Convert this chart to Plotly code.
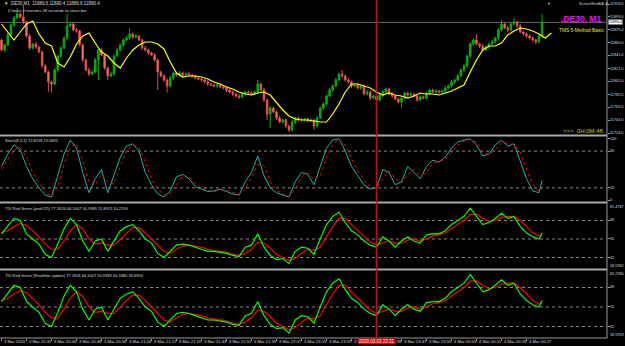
import plotly.graph_objects as go

# ---------------- data ----------------
candle_close = [
    11849, 11856.5, 11871.5, 11886.5, 11897, 11903, 11898.5, 11891, 11870, 11852,
    11858, 11853.5, 11846, 11825, 11816, 11801, 11798, 11819, 11840, 11852,
    11867, 11885, 11888, 11879, 11877.5, 11856.5, 11834, 11819, 11813, 11816,
    11834, 11849, 11841.5, 11822, 11810, 11813, 11840, 11849, 11856.5, 11864,
    11867, 11873, 11868.5, 11870, 11864, 11852, 11849, 11844.5, 11841.5, 11834,
    11816, 11810, 11804, 11795, 11807, 11814.5, 11811.5, 11814.5, 11811.5, 11813,
    11811.5, 11810, 11807, 11805.5, 11804, 11801, 11798, 11796.5, 11795, 11796.5,
    11793.5, 11792, 11789, 11786, 11783, 11780, 11778.5, 11783, 11786, 11784.5,
    11783, 11786, 11798, 11789, 11774, 11753, 11762, 11756, 11747, 11741,
    11744, 11735, 11729, 11741, 11747, 11744, 11744.5, 11745.5, 11742.5, 11744,
    11735, 11747, 11762, 11768, 11780, 11789, 11795, 11804, 11813, 11810,
    11804, 11801, 11795, 11796.5, 11792, 11795, 11783, 11786, 11777, 11780,
    11774, 11781.5, 11786, 11790.5, 11783, 11780, 11775.5, 11771, 11777, 11784.5,
    11781.5, 11783, 11780, 11774, 11778.5, 11777, 11783, 11789, 11786, 11787.5,
    11786, 11787.5, 11792, 11795, 11801, 11804, 11810, 11819, 11825, 11840,
    11858, 11864, 11858, 11855, 11849, 11853.5, 11858, 11861, 11867, 11879,
    11888, 11882, 11879, 11888, 11891, 11885, 11876, 11873, 11870, 11867,
    11864, 11861, 11870, 11890.4,
]
first_open = 11864.0
wick_up = [
    2, 2, 3, 2, 3, 9, 2, 18, 2, 3,
    2, 3, 2, 2, 3, 2, 2, 3, 2, 3,
    2, 18, 3, 2, 3, 2, 2, 2, 3, 2,
    3, 2, 3, 2, 2, 3, 2, 3, 2, 2,
    3, 9, 2, 3, 2, 2, 3, 2, 2, 3,
    2, 2, 3, 2, 3, 2, 2, 3, 2, 2,
    3, 2, 2, 3, 2, 2, 3, 2, 2, 3,
    2, 2, 3, 2, 2, 2, 3, 3, 2, 2,
    3, 2, 6, 2, 3, 2, 3, 2, 2, 3,
    2, 2, 2, 3, 2, 2, 3, 2, 2, 3,
    2, 3, 2, 3, 2, 3, 2, 3, 2, 6,
    2, 3, 2, 2, 3, 2, 2, 3, 2, 2,
    3, 2, 3, 2, 2, 3, 2, 2, 3, 2,
    2, 3, 2, 2, 3, 2, 3, 2, 2, 3,
    2, 2, 3, 2, 3, 2, 3, 2, 3, 2,
    3, 2, 9, 2, 3, 2, 2, 3, 2, 3,
    6, 2, 3, 2, 6, 2, 3, 2, 2, 3,
    2, 2, 3, 12,
]
wick_dn = [
    2, 3, 2, 2, 3, 2, 2, 3, 2, 3,
    2, 3, 2, 3, 2, 15, 13, 2, 3, 2,
    2, 3, 2, 2, 3, 2, 3, 2, 3, 2,
    2, 30, 2, 3, 6, 2, 3, 2, 2, 3,
    2, 2, 3, 2, 2, 3, 2, 3, 2, 2,
    27, 2, 3, 10, 2, 3, 2, 2, 3, 2,
    2, 3, 2, 2, 3, 2, 3, 2, 2, 3,
    2, 2, 3, 2, 3, 2, 3, 2, 2, 3,
    2, 2, 3, 2, 3, 9, 21, 2, 3, 2,
    2, 3, 3, 2, 3, 2, 2, 3, 2, 2,
    6, 3, 2, 3, 2, 2, 3, 2, 2, 3,
    2, 2, 3, 2, 2, 3, 2, 2, 3, 2,
    9, 2, 3, 2, 2, 3, 2, 2, 9, 2,
    3, 2, 2, 3, 2, 2, 3, 2, 2, 3,
    2, 2, 3, 2, 2, 3, 2, 2, 3, 2,
    3, 2, 2, 3, 2, 2, 3, 2, 2, 3,
    2, 2, 3, 2, 2, 3, 2, 2, 3, 2,
    2, 3, 2, 3,
]
# TMS moving average, every second bar
ma_values = [
    11888, 11876, 11864, 11876, 11888, 11892.5, 11873, 11859.5, 11855, 11829.5,
    11823.5, 11838.5, 11858, 11870, 11874.5, 11859.5, 11846, 11840, 11829.5, 11822,
    11837, 11849, 11856.5, 11861, 11861, 11858, 11850.5, 11831, 11814.5, 11808.5,
    11810, 11810, 11808.5, 11805.5, 11801, 11798, 11793.5, 11790.5, 11786, 11783,
    11781.5, 11784.5, 11786, 11781.5, 11769.5, 11759, 11750, 11745.5, 11744, 11744,
    11742.5, 11741, 11741, 11753, 11768, 11786, 11798, 11798, 11795, 11792,
    11786, 11781.5, 11784.5, 11781.5, 11780, 11777, 11780, 11784.5, 11783, 11783,
    11781.5, 11784.5, 11787.5, 11792, 11796.5, 11816, 11834, 11849, 11855, 11855,
    11859.5, 11871.5, 11877.5, 11882, 11880.5, 11877.5, 11873, 11867, 11874.5,
]
# oscillators, every second bar + last bar
stoch_main = [
    55, 75, 90, 82, 55, 35, 20, 8, 5, 40,
    75, 98, 85, 45, 12, 35, 50, 12, 40, 70,
    88, 92, 80, 45, 25, 10, 5, 15, 38, 42,
    35, 22, 18, 14, 15, 18, 14, 10, 8, 30,
    45, 72, 40, 20, 12, 8, 5, 30, 45, 42,
    25, 55, 85, 98, 100, 80, 55, 40, 25, 18,
    20, 50, 45, 25, 30, 55, 45, 35, 55, 65,
    62, 70, 85, 95, 98, 100, 90, 72, 75, 90,
    98, 88, 92, 65, 35, 15, 12, 32,
]
stoch_signal = [
    50, 65, 82, 86, 70, 45, 28, 14, 6, 22,
    58, 86, 92, 65, 30, 24, 42, 30, 26, 55,
    80, 90, 86, 62, 35, 18, 8, 10, 26, 40,
    38, 28, 20, 16, 14, 16, 16, 12, 9, 18,
    38, 58, 56, 30, 16, 10, 6, 18, 38, 44,
    34, 40, 70, 92, 99, 90, 68, 48, 32, 22,
    19, 35, 48, 35, 28, 42, 50, 40, 45, 60,
    64, 66, 78, 90, 96, 99, 95, 80, 74, 82,
    94, 93, 90, 78, 50, 25, 14, 20,
]
tdi_green = [
    55, 62, 70, 68, 55, 50, 45, 35, 32, 45,
    60, 70, 64, 48, 38, 48, 50, 38, 48, 58,
    62, 64, 58, 50, 46, 36, 32, 38, 44, 45,
    44, 42, 40, 38, 38, 37, 36, 34, 33, 42,
    44, 55, 42, 34, 30, 31, 26, 38, 42, 41,
    35, 50, 64, 72, 76, 66, 58, 54, 48, 44,
    42, 52, 48, 42, 48, 52, 48, 46, 54, 55,
    55, 58, 64, 68, 72, 80, 72, 64, 66, 70,
    75, 70, 72, 62, 56, 52, 50, 56,
]
tdi_red = [
    56, 58, 62, 65, 63, 58, 52, 45, 40, 40,
    48, 58, 64, 60, 50, 45, 46, 44, 44, 50,
    56, 61, 61, 56, 50, 44, 38, 36, 40, 43,
    44, 43, 42, 40, 39, 38, 37, 35, 34, 36,
    40, 47, 46, 41, 35, 32, 29, 31, 36, 40,
    39, 42, 52, 62, 70, 70, 64, 58, 52, 47,
    44, 46, 48, 46, 46, 49, 50, 48, 50, 53,
    54, 56, 60, 64, 68, 74, 74, 70, 67, 68,
    71, 72, 72, 68, 62, 56, 53, 53,
]
price_ticks = [11918.0, 11899.0, 11879.4, 11860.0, 11841.0, 11821.0,
               11802.0, 11782.0, 11763.0, 11744.0, 11724.0]
stoch_levels = [80, 20]
stoch_ticks = [100, 80, 20, 0]
tdi_levels = [68, 50, 32]
tdi1_bounds = ["81.4767", "18.5962"]
tdi2_bounds = ["82.2966", "18.5953"]
time_labels = ["3 Mar 2020", "3 Mar 20:32", "3 Mar 20:40", "3 Mar 20:48", "3 Mar 20:56",
               "3 Mar 21:04", "3 Mar 21:12", "3 Mar 21:20", "3 Mar 21:43", "3 Mar 21:51",
               "3 Mar 21:59", "3 Mar 22:07", "3 Mar 23:15", "3 Mar 23:23", "3 Mar 23:31",
               "3 Mar 23:39", "3 Mar 23:47", "3 Mar 23:55", "4 Mar 00:03", "4 Mar 00:11",
               "4 Mar 00:19", "4 Mar 00:27"]
label_step = 8
cursor_bar = 120
cursor_text = "2020.03.03 23:31"
current_price = 11890.4

# ---------------- derived ----------------
n = len(candle_close)
idx = list(range(n))
opens = [first_open] + candle_close[:-1]
highs = [max(o, c) + w for o, c, w in zip(opens, candle_close, wick_up)]
lows = [min(o, c) - w for o, c, w in zip(opens, candle_close, wick_dn)]
ma_idx = list(range(0, 2 * len(ma_values), 2))
osc_idx = list(range(0, n - 1, 2)) + [n - 1]

W, H = 625, 346
PW, PH = 607, 338
def px(x):
    return x / PW
def py(y):
    return (PH - y) / PH

FONT = "Liberation Sans, Arial, sans-serif"
TXT = "#d8d8d8"
GRAY = "#9a9a9a"

fig = go.Figure()
fig.add_trace(go.Candlestick(
    x=idx, open=opens, high=highs, low=lows, close=candle_close,
    xaxis="x", yaxis="y", whiskerwidth=0,
    increasing=dict(line=dict(color="#00b400", width=1), fillcolor="#00a000"),
    decreasing=dict(line=dict(color="#e04848", width=1), fillcolor="#f78c86"),
    showlegend=False, hoverinfo="skip"))
fig.add_trace(go.Scatter(x=ma_idx, y=ma_values, mode="lines", xaxis="x", yaxis="y",
                         line=dict(color="#ffff00", width=1.2), showlegend=False, hoverinfo="skip"))
fig.add_trace(go.Scatter(x=osc_idx, y=stoch_main, mode="lines", xaxis="x", yaxis="y2",
                         line=dict(color="#20b2aa", width=1), showlegend=False, hoverinfo="skip"))
fig.add_trace(go.Scatter(x=osc_idx, y=stoch_signal, mode="lines", xaxis="x", yaxis="y2",
                         line=dict(color="#ff0000", width=1, dash="dot"), showlegend=False, hoverinfo="skip"))
for ya in ("y3", "y4"):
    fig.add_trace(go.Scatter(x=osc_idx, y=tdi_red, mode="lines", xaxis="x", yaxis=ya,
                             line=dict(color="#ff0000", width=1.2), showlegend=False, hoverinfo="skip"))
    fig.add_trace(go.Scatter(x=osc_idx, y=tdi_green, mode="lines", xaxis="x", yaxis=ya,
                             line=dict(color="#00ff00", width=1.2), showlegend=False, hoverinfo="skip"))

yax_common = dict(showgrid=False, zeroline=False, showticklabels=False, side="right",
                  ticks="outside", ticklen=2, tickcolor=GRAY, fixedrange=True)
fig.update_layout(
    width=W, height=H, margin=dict(l=0, r=W - PW, t=0, b=H - PH),
    paper_bgcolor="#000000", plot_bgcolor="#000000",
    font=dict(family=FONT, color=TXT, size=5),
    xaxis=dict(domain=[0, 1], range=[-0.48, 193.76], anchor="y4", showgrid=False,
               zeroline=False, showticklabels=False, ticks="outside", ticklen=2,
               tickcolor=GRAY, tickvals=[k * label_step for k in range(len(time_labels))],
               rangeslider=dict(visible=False), fixedrange=True),
    yaxis=dict(domain=[py(134), 1], range=[11723, 11924], tickvals=price_ticks, **yax_common),
    yaxis2=dict(domain=[py(201), py(137)], range=[-1.5, 103], tickvals=stoch_ticks, **yax_common),
    yaxis3=dict(domain=[py(268), py(204)], range=[21.8, 84], tickvals=tdi_levels, **yax_common),
    yaxis4=dict(domain=[0, py(271)], range=[21.4, 83.2], tickvals=tdi_levels, **yax_common),
)

shapes = []
for yy in (135.5, 202.5, 269.5):
    shapes.append(dict(type="line", xref="paper", yref="paper", x0=0, x1=1, y0=py(yy), y1=py(yy),
                       line=dict(color="#a8a8a8", width=2)))
shapes.append(dict(type="line", xref="paper", yref="paper", x0=0, x1=1, y0=0, y1=0,
                   line=dict(color=GRAY, width=1)))
shapes.append(dict(type="line", xref="paper", yref="paper", x0=1, x1=1, y0=0, y1=1,
                   line=dict(color=GRAY, width=1)))
shapes.append(dict(type="line", xref="paper", yref="y", x0=0, x1=1, y0=current_price, y1=current_price,
                   line=dict(color="#6a6a6a", width=1), layer="below"))
for lv in stoch_levels:
    shapes.append(dict(type="line", xref="paper", yref="y2", x0=0, x1=1, y0=lv, y1=lv,
                       line=dict(color="#8a8a8a", width=1, dash="dot"), layer="below"))
for ya in ("y3", "y4"):
    for lv in tdi_levels:
        shapes.append(dict(type="line", xref="paper", yref=ya, x0=0, x1=1, y0=lv, y1=lv,
                           line=dict(color="#8a8a8a", width=1, dash="dot"), layer="below"))
shapes.append(dict(type="line", xref="x", yref="paper", x0=cursor_bar, x1=cursor_bar, y0=0, y1=1,
                   line=dict(color="#c01010", width=1.5)))
fig.update_layout(shapes=shapes)

ann = []
def add(text, x, y, xref="paper", yref="paper", size=4.5, color=TXT, xanchor="left", **kw):
    ann.append(dict(text=text, x=x, y=y, xref=xref, yref=yref, showarrow=False,
                    xanchor=xanchor, yanchor="middle", font=dict(size=size, color=color, family=FONT), **kw))

RS = 3.8
for v in price_ticks:
    add(f"{v:.1f}", 1, v, yref="y", xshift=1, size=RS)
for v in stoch_ticks:
    add(str(v), 1, v, yref="y2", xshift=1, size=RS)
for ya in ("y3", "y4"):
    for v in tdi_levels:
        add(str(v), 1, v, yref=ya, xshift=1, size=RS)
add(tdi1_bounds[0], 1, py(207), xshift=1, size=RS)
add(tdi1_bounds[1], 1, py(266), xshift=1, size=RS)
add(tdi2_bounds[0], 1, py(274), xshift=1, size=RS)
add(tdi2_bounds[1], 1, py(335), xshift=1, size=RS)
add(f"{current_price:.1f}", 1, current_price, yref="y", xshift=1, size=RS, color="#000000",
    bgcolor="#ffffff", borderpad=0)

add("▼ .DE30,M1  11889.6 11890.4 11889.6 11890.4", px(2), py(4))
add("0 hours 0 minutes 48 seconds to close bar", px(6), py(10), size=4.2)
add("ScreenShotEA ⊗", px(577), py(4), size=3.8)
add("▼", px(545), py(3), size=4, color="#bbbbbb")
add("<b>.DE30. M1</b>", px(559), py(19), size=8.5, color="#ff00ff")
add("TMS 5-Method Basic", px(557), py(30), size=4.8, color="#e6e600")
add(">>>  0H:0M:48", px(561), py(131), size=6, color="#c8c800")
add("Stoch(8,3,3) 12.8218 19.5892", px(3), py(140), size=4)
add("TDI Red Green (pool#25) 77.2626 64.1007 50.9389 11.8913 10.2290", px(3), py(208), size=4)
add("TDI Red Green (Realtime update) 77.2626 64.1007 50.9389 50.3380 56.6959", px(3), py(275), size=4)

for k, lab in enumerate(time_labels):
    add(lab, k * label_step, py(341.5), xref="x", size=4.2)
add(cursor_text, cursor_bar, py(341.5), xref="x", xanchor="center", size=4.5,
    color="#ffffff", bgcolor="#e00000", borderpad=0)

fig.update_layout(annotations=ann)
fig.write_html("out.html")
